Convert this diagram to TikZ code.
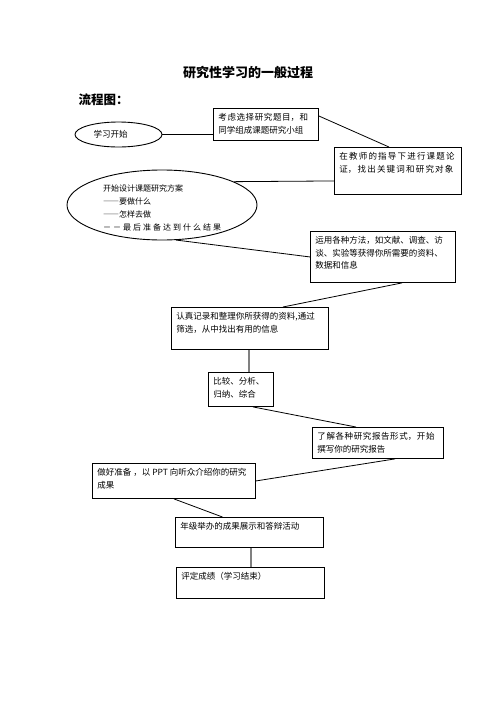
\documentclass[tikz,border=0pt]{standalone}
\usepackage{fontspec}
\setmainfont{Noto Sans CJK SC}
\XeTeXlinebreaklocale "zh"
\usetikzlibrary{positioning}
\usetikzlibrary{shapes.geometric}
% text block inside a box: width, height (pt), text
\newcommand{\boxtxt}[3]{\parbox[t][\dimexpr#2pt-10pt\relax][t]{\dimexpr#1pt-10pt\relax}{\raggedright #3}}
% wider spacing between the characters
\newcommand{\spread}[2]{{\XeTeXlinebreakskip=#1pt\relax #2}}
\newcommand{\fulldash}{{\addfontfeatures{RawFeature=+fwid}——}}

\begin{document}
\begin{tikzpicture} [x=1pt,y=-1pt,
            stepbox/.style={draw,line width=0.9pt,anchor=north west,inner sep=5pt},
            oval/.style={draw,ellipse,line width=0.9pt,inner sep=0pt,align=left},
            link/.style={line width=0.8pt},
            glink/.style={black!50,line width=2pt},
         every node/.append style={font=\fontsize{8.5}{12.5}\selectfont}]
\useasboundingbox (0,0) rectangle (496,702);

%title
\node (title) at (248,73) {\fontsize{13}{15}\selectfont\bfseries 研究性学习的一般过程};
\node (flow) at (75,100) [anchor=west] {\fontsize{12.5}{15}\selectfont\bfseries 流程图：};

%start
\node (e1) at (118.5,134.5) [oval,text width=50pt,minimum width=87pt,minimum height=25pt] {学习开始};

%B1
\node (b1) at (213,108) [stepbox] {\boxtxt{105}{32}{\spread{0.6}{考虑选择研究题目，和}\\同学组成课题研究小组}};
\draw [link] (e1.east) -- (e1.east -| b1.west);

%B2
\node (b2) at (334,147) [stepbox] {\boxtxt{127}{47}{\spread{1.2}{在教师的指导下进行课题论}\\\spread{1.2}{证，找出关键词和研究对象}}};
\draw [link] ([yshift=-8pt]b1.north east) -- ([xshift=-9pt]b2.north);

%plan
\node (e2) at (162,205) [oval,text width=118pt,minimum width=190pt,minimum height=70pt,
   inner ysep=-8pt,font=\fontsize{8}{13.2}\selectfont]
   {\rule{0pt}{13pt}开始设计课题研究方案\\\fulldash 要做什么\\\fulldash 怎样去做\\\spread{2}{－－最后准备达到什么结果}};
\draw [link] (e2.18) -- ([yshift=-10pt]b2.west);

%B3
\node (b3) at (310,231) [stepbox] {\boxtxt{145}{51}{运用各种方法，如文献、调查、访\\谈、实验等获得你所需要的资料、\\数据和信息}};
\draw [link] (e2.-68) -- (b3.west);

%B4
\node (b4) at (171,307) [stepbox] {\boxtxt{157}{42}{认真记录和整理你所获得的资料,通过\\筛选，从中找出有用的信息}};
\draw [link] ([xshift=19pt]b3.south) -- ([xshift=33pt]b4.north);

%B5
\node (b5) at (208,372) [stepbox] {\boxtxt{65}{34}{比较、分析、\\归纳、综合}};
\draw [glink] ([xshift=-1pt]b4.south) -- ([xshift=-1pt]b4.south |- b5.north);

%B6
\node (b6) at (312,427) [stepbox] {\boxtxt{131}{31}{\spread{0.6}{了解各种研究报告形式，开始}\\撰写你的研究报告}};
\draw [link] ([xshift=12pt]b5.south) -- ([xshift=-22pt]b6.north);

%B7
\node (b7) at (92,463) [stepbox] {\boxtxt{163}{35}{做好准备 ，以 PPT 向听众介绍你的研究\\成果}};
\draw [link] ([xshift=17pt]b6.south) -- (b7.east);

%B8
\node (b8) at (175,517) [stepbox] {\boxtxt{148}{30}{年级举办的成果展示和答辩活动}};
\draw [link] (b7.south) -- ([xshift=-27pt]b8.north);

%end
\node (b9) at (176,567) [stepbox] {\boxtxt{148}{31}{评定成绩（学习结束）}};
\draw [glink] ([xshift=2pt]b8.south) -- ([xshift=2pt]b8.south |- b9.north);

\end{tikzpicture}
\end{document}
